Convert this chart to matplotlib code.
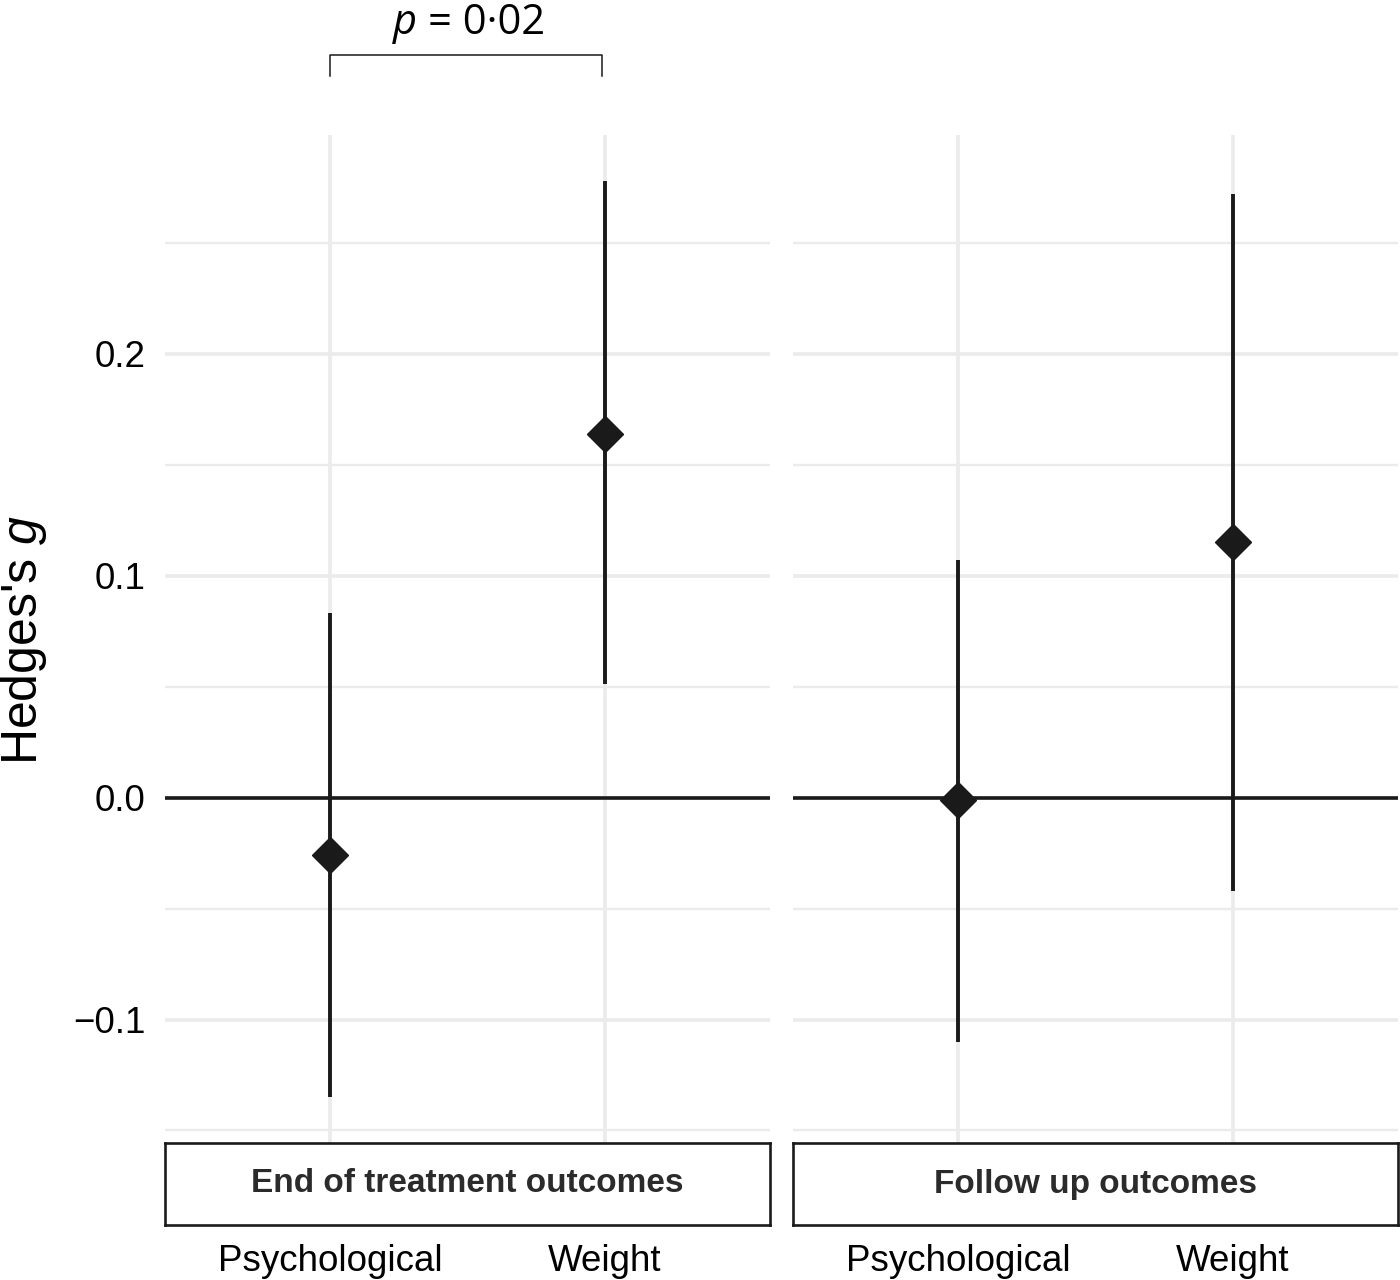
import numpy as np
import matplotlib.pyplot as plt
from matplotlib.ticker import MultipleLocator, FuncFormatter

plt.rcParams['font.family'] = ['Liberation Sans', 'DejaVu Sans']
plt.rcParams['mathtext.fontset'] = 'custom'
plt.rcParams['mathtext.rm'] = 'Liberation Sans'
plt.rcParams['mathtext.it'] = 'Liberation Sans:italic'

categorias = ["Psychological", "Weight"]
paneles = ["End of treatment outcomes", "Follow up outcomes"]

# Hedges's g y sus intervalos
g_fin = [-0.026, 0.164]
li_fin = [-0.135, 0.051]
ls_fin = [0.083, 0.278]

g_seg = [-0.001, 0.115]
li_seg = [-0.110, -0.042]
ls_seg = [0.107, 0.272]

p_valor = "= 0·02"

datos = [(g_fin, li_fin, ls_fin), (g_seg, li_seg, ls_seg)]

# limites estilo ggplot (expansion 5%)
todos = li_fin + ls_fin + li_seg + ls_seg
ymin, ymax = min(todos), max(todos)
rango = ymax - ymin
ylim = (ymin - 0.05 * rango, ymax + 0.05 * rango)
xlim = (1 - 0.6, len(categorias) + 0.6)

W, H = 1400, 1280
fig = plt.figure(figsize=(14, 12.8), dpi=100)

izq = [165, 793]
ancho = 605
arriba, abajo = 135, 1143
strip_top, strip_bot = 1143, 1225

negro = '#1a1a1a'
gris = '#EBEBEB'

ejes = []
for k in range(2):
    ax = fig.add_axes([izq[k] / W, 1 - abajo / H, ancho / W, (abajo - arriba) / H])
    g, li, ls = datos[k]
    x = np.arange(1, len(categorias) + 1)
    ax.axhline(0, color=negro, lw=2.6, zorder=2)
    ax.vlines(x, li, ls, color=negro, lw=2.8, zorder=3)
    ax.plot(x, g, 'D', color=negro, markersize=18.5, zorder=4)

    ax.set_xlim(xlim)
    ax.set_ylim(ylim)
    ax.set_xticks(x)
    ax.set_xticklabels(categorias)
    ax.yaxis.set_major_locator(MultipleLocator(0.1))
    ax.yaxis.set_minor_locator(MultipleLocator(0.05))
    ax.yaxis.set_major_formatter(FuncFormatter(lambda v, p: f"{v:.1f}".replace("-", "\u2212")))
    ax.grid(which='major', color=gris, lw=2.6, zorder=0)
    ax.grid(which='minor', axis='y', color=gris, lw=1.7, zorder=0)
    ax.set_axisbelow(True)
    for s in ax.spines.values():
        s.set_visible(False)
    ax.tick_params(which='both', length=0)
    ax.tick_params(axis='x', labelsize=26.5, pad=73, labelcolor='black')
    ax.tick_params(axis='y', labelsize=26.5, pad=14, labelcolor='black')
    if k == 1:
        ax.tick_params(axis='y', labelleft=False)
    ejes.append(ax)

    # caja del panel
    sx = fig.add_axes([izq[k] / W, 1 - strip_bot / H, ancho / W, (strip_bot - strip_top) / H])
    sx.set_xticks([])
    sx.set_yticks([])
    for s in sx.spines.values():
        s.set_linewidth(1.9)
        s.set_color(negro)
    sx.text(0.5, 0.5, paneles[k], ha='center', va='center', fontsize=24,
            fontweight='bold', color='#2b2b2b', transform=sx.transAxes)

fig.text(24 / W, 1 - 640 / H, "Hedges's $g$", rotation=90, ha='center', va='center', fontsize=36)

# corchete de comparacion
ax = ejes[0]
tr = ax.get_xaxis_transform()
y_h = 1 - (55 - arriba) / (abajo - arriba)
y_b = 1 - (76 - arriba) / (abajo - arriba)
ax.plot([1, 1, 1.99, 1.99], [y_b, y_h, y_h, y_b], color=negro, lw=1.1,
        transform=tr, clip_on=False)
y_txt = 1 - (34 - arriba) / (abajo - arriba)
ax.text(1.5 - 0.145, y_txt, "p ", transform=tr,
        fontsize=30, family='Open Sans', style='italic', ha='right', va='baseline')
ax.text(1.5 - 0.145, y_txt, p_valor, transform=tr,
        fontsize=30, family='Open Sans', ha='left', va='baseline')

fig.savefig("out.png", dpi=100)
